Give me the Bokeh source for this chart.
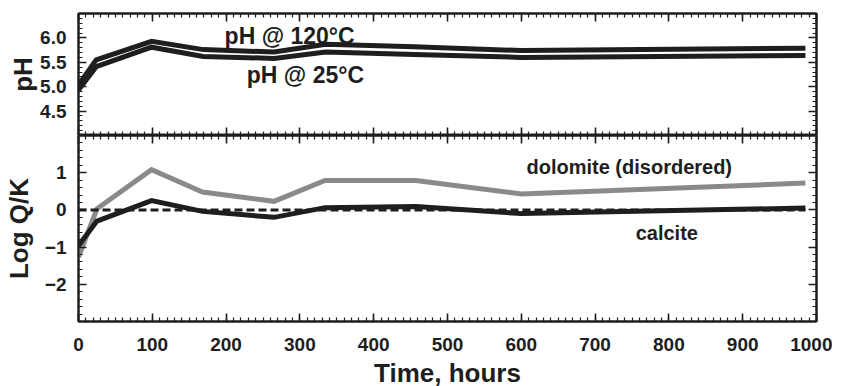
from bokeh.plotting import figure
from bokeh.layouts import column
from bokeh.models import (LinearAxis, Range1d, Label, SingleIntervalTicker,
                          FixedTicker, CustomJSTickFormatter, PrintfTickFormatter)
from bokeh.embed import file_html
from bokeh.resources import INLINE

# ---------------- data ----------------
time_ph = [0, 24, 99, 169, 265, 335, 455, 600, 985]
ph_120 = [5.04, 5.55, 5.93, 5.76, 5.71, 5.87, 5.82, 5.74, 5.79]
ph_25 = [4.93, 5.41, 5.81, 5.62, 5.58, 5.71, 5.66, 5.60, 5.64]

time_q = [0, 25, 99, 168, 265, 334, 457, 600, 985]
dolomite = [-1.27, 0.03, 1.08, 0.48, 0.23, 0.79, 0.79, 0.43, 0.72]
calcite = [-0.96, -0.30, 0.25, -0.04, -0.20, 0.06, 0.09, -0.10, 0.05]

zero_x = [0, 985]
zero_y = [0, 0]

ph_ticks = [4.5, 5.0, 5.5, 6.0]
q_ticks = [-2, -1, 0, 1]

INK = "#1e1e1e"
GREY = "#8a8a8a"
FONT = "Liberation Sans"

ph_minor = [round(4.0 + 0.1 * i, 2) for i in range(26)]
q_minor = [round(-3.0 + 0.2 * i, 2) for i in range(26)]


def style(ax, labels=True, size="19px"):
    ax.major_tick_in = 8
    ax.major_tick_out = 0
    ax.minor_tick_in = 4
    ax.minor_tick_out = 0
    ax.axis_line_width = 2
    ax.axis_line_color = INK
    ax.major_tick_line_width = 1.6
    ax.major_tick_line_color = INK
    ax.minor_tick_line_width = 1.2
    ax.minor_tick_line_color = INK
    if labels:
        ax.major_label_text_font = FONT
        ax.major_label_text_font_style = "bold"
        ax.major_label_text_font_size = size
        ax.major_label_text_color = INK
        ax.axis_label_text_font = FONT
        ax.axis_label_text_font_style = "bold"
        ax.axis_label_text_font_size = "26px"
        ax.axis_label_text_color = INK
    else:
        ax.formatter = CustomJSTickFormatter(code="return ''")
        ax.major_label_text_font_size = "1px"
        ax.major_label_standoff = 0


def xticker():
    return SingleIntervalTicker(interval=100, num_minor_ticks=10)


common = dict(frame_width=738, x_range=Range1d(0, 1000), output_backend="svg",
              toolbar_location=None, min_border_left=72, min_border_right=16)

# ---------------- top panel: pH ----------------
p1 = figure(frame_height=122, y_range=Range1d(4.0, 6.5),
            min_border_top=13, min_border_bottom=0, **common)
p1.grid.visible = False
p1.outline_line_color = INK
p1.outline_line_width = 2

p1.xaxis.ticker = xticker()
style(p1.xaxis[0], labels=False)
p1.yaxis.ticker = FixedTicker(ticks=ph_ticks, minor_ticks=ph_minor)
p1.yaxis.formatter = PrintfTickFormatter(format="%.1f")
style(p1.yaxis[0])
p1.yaxis.major_label_standoff = 12
p1.yaxis.axis_label = "pH"
p1.yaxis.axis_label_standoff = -1

ax_top = LinearAxis(ticker=xticker())
style(ax_top, labels=False)
p1.add_layout(ax_top, "above")
ax_r1 = LinearAxis(ticker=FixedTicker(ticks=ph_ticks, minor_ticks=ph_minor))
style(ax_r1, labels=False)
p1.add_layout(ax_r1, "right")

p1.line(time_ph, ph_120, line_width=5, line_color=INK, line_join="miter")
p1.line(time_ph, ph_25, line_width=5, line_color=INK, line_join="miter")

for txt, xx, yy in [("pH @ 120°C", 198, 6.04), ("pH @ 25°C", 228, 5.24)]:
    p1.add_layout(Label(x=xx, y=yy, text=txt, text_font=FONT, text_font_style="bold",
                        text_font_size="23px", text_color=INK, text_baseline="middle",
                        text_align="left"))

# ---------------- bottom panel: Log Q/K ----------------
p2 = figure(frame_height=186, y_range=Range1d(-3, 2),
            min_border_top=0, min_border_bottom=0, **common)
p2.grid.visible = False
p2.outline_line_color = INK
p2.outline_line_width = 2

p2.xaxis.ticker = xticker()
style(p2.xaxis[0])
p2.xaxis.major_label_standoff = 16
p2.xaxis.axis_label = "Time, hours"
p2.xaxis.axis_label_standoff = 4

p2.yaxis.ticker = FixedTicker(ticks=q_ticks, minor_ticks=q_minor)
style(p2.yaxis[0])
p2.yaxis.major_label_standoff = 12
p2.yaxis.axis_label = "Log Q/K"
p2.yaxis.axis_label_standoff = 8

ax_top2 = LinearAxis(ticker=xticker())
style(ax_top2, labels=False)
p2.add_layout(ax_top2, "above")
ax_r2 = LinearAxis(ticker=FixedTicker(ticks=q_ticks, minor_ticks=q_minor))
style(ax_r2, labels=False)
p2.add_layout(ax_r2, "right")

p2.line(time_q, dolomite, line_width=5, line_color=GREY, line_join="miter")
p2.line(time_q, calcite, line_width=5, line_color=INK, line_join="miter")
p2.line(zero_x, zero_y, line_width=3, line_color=INK, line_dash="8 4")

for txt, xx, yy in [("dolomite (disordered)", 607, 1.15), ("calcite", 755, -0.62)]:
    p2.add_layout(Label(x=xx, y=yy, text=txt, text_font=FONT, text_font_style="bold",
                        text_font_size="20px", text_color=INK, text_baseline="middle",
                        text_align="left"))

layout = column(p1, p2, spacing=0)
open("out.html", "w").write(file_html(layout, INLINE))
